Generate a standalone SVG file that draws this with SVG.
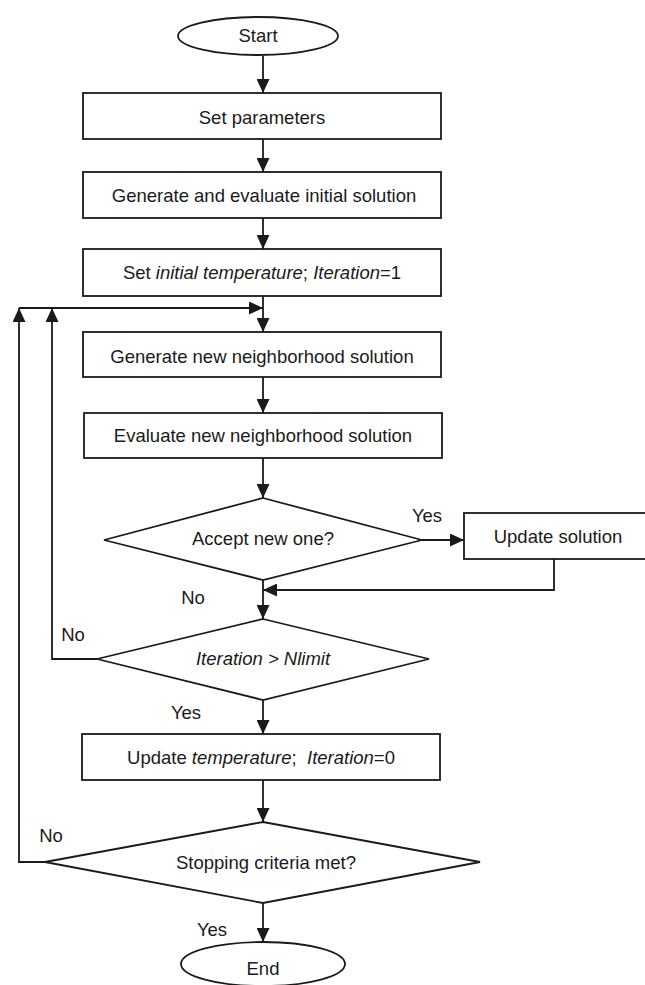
<svg xmlns="http://www.w3.org/2000/svg" width="645" height="985" viewBox="0 0 645 985">
<defs>
<style>
.shape{fill:#ffffff;stroke:#1a1a1a;stroke-width:1.8}
.line{fill:none;stroke:#1a1a1a;stroke-width:1.8}
text{font-family:"Liberation Sans",Arial,sans-serif;font-size:18.5px;fill:#1a1a1a}
.c{text-anchor:middle}
.i{font-style:italic}
</style>
<marker id="arr" markerUnits="userSpaceOnUse" markerWidth="14" markerHeight="13" refX="14" refY="6.5" orient="auto">
<path d="M0,0 L14,6.5 L0,13 z" fill="#1a1a1a"/>
</marker>
</defs>
<rect width="645" height="985" fill="#ffffff"/>

<g id="connectors">
<path class="line" d="M263,56 V93" marker-end="url(#arr)"/>
<path class="line" d="M263,139 V172" marker-end="url(#arr)"/>
<path class="line" d="M263,218 V249" marker-end="url(#arr)"/>
<path class="line" d="M263,296 V332" marker-end="url(#arr)"/>
<path class="line" d="M19,308 H263" marker-end="url(#arr)"/>
<path class="line" d="M263,377 V413" marker-end="url(#arr)"/>
<path class="line" d="M263,458 V498" marker-end="url(#arr)"/>
<path class="line" d="M422,540 H464" marker-end="url(#arr)"/>
<path class="line" d="M554,559 V590 H263" marker-end="url(#arr)"/>
<path class="line" d="M263,580 V619" marker-end="url(#arr)"/>
<path class="line" d="M97,659 H52 V308" marker-end="url(#arr)"/>
<path class="line" d="M263,700 V734" marker-end="url(#arr)"/>
<path class="line" d="M263,780 V822" marker-end="url(#arr)"/>
<path class="line" d="M45,862 H19 V308" marker-end="url(#arr)"/>
<path class="line" d="M263,903 V942" marker-end="url(#arr)"/>
<text class="c" x="427" y="521.5">Yes</text>
<text class="c" x="193" y="604">No</text>
<text class="c" x="73" y="641">No</text>
<text class="c" x="186" y="719">Yes</text>
<text class="c" x="51" y="842">No</text>
<text class="c" x="212" y="936">Yes</text>
</g>

<g id="start">
<ellipse class="shape" cx="258" cy="36" rx="80" ry="19"/>
<text class="c" x="258" y="42">Start</text>
</g>

<g id="set-parameters">
<rect class="shape" x="83" y="93" width="358" height="46"/>
<text class="c" x="262" y="123.5">Set parameters</text>
</g>

<g id="generate-initial">
<rect class="shape" x="83" y="172" width="358" height="46"/>
<text class="c" x="264" y="202">Generate and evaluate initial solution</text>
</g>

<g id="set-initial-temperature">
<rect class="shape" x="83" y="249" width="358" height="47"/>
<text class="c" x="262" y="279">Set <tspan class="i">initial temperature</tspan>; <tspan class="i">Iteration</tspan>=1</text>
</g>

<g id="generate-neighborhood">
<rect class="shape" x="83" y="332" width="358" height="45"/>
<text class="c" x="262" y="363">Generate new neighborhood solution</text>
</g>

<g id="evaluate-neighborhood">
<rect class="shape" x="84" y="413" width="358" height="45"/>
<text class="c" x="263" y="442">Evaluate new neighborhood solution</text>
</g>

<g id="accept">
<polygon class="shape" points="263,498 422,540 263,580 104,540"/>
<text class="c" x="263" y="545">Accept new one?</text>
</g>

<g id="update-solution">
<rect class="shape" x="464" y="513" width="185" height="46"/>
<text class="c" x="558" y="543">Update solution</text>
</g>

<g id="iteration-check">
<polygon class="shape" points="263,619 429,659 263,700 97,659"/>
<text class="c i" x="263" y="665">Iteration &gt; Nlimit</text>
</g>

<g id="update-temperature">
<rect class="shape" x="82" y="734" width="358" height="46"/>
<text class="c" x="261" y="764" style="white-space:pre">Update <tspan class="i">temperature</tspan>;  <tspan class="i">Iteration</tspan>=0</text>
</g>

<g id="stopping">
<polygon class="shape" points="263,822 480,862 263,903 45,862"/>
<text class="c" x="266" y="869">Stopping criteria met?</text>
</g>

<g id="end">
<ellipse class="shape" cx="263" cy="964" rx="82" ry="22"/>
<text class="c" x="263" y="975">End</text>
</g>
</svg>
